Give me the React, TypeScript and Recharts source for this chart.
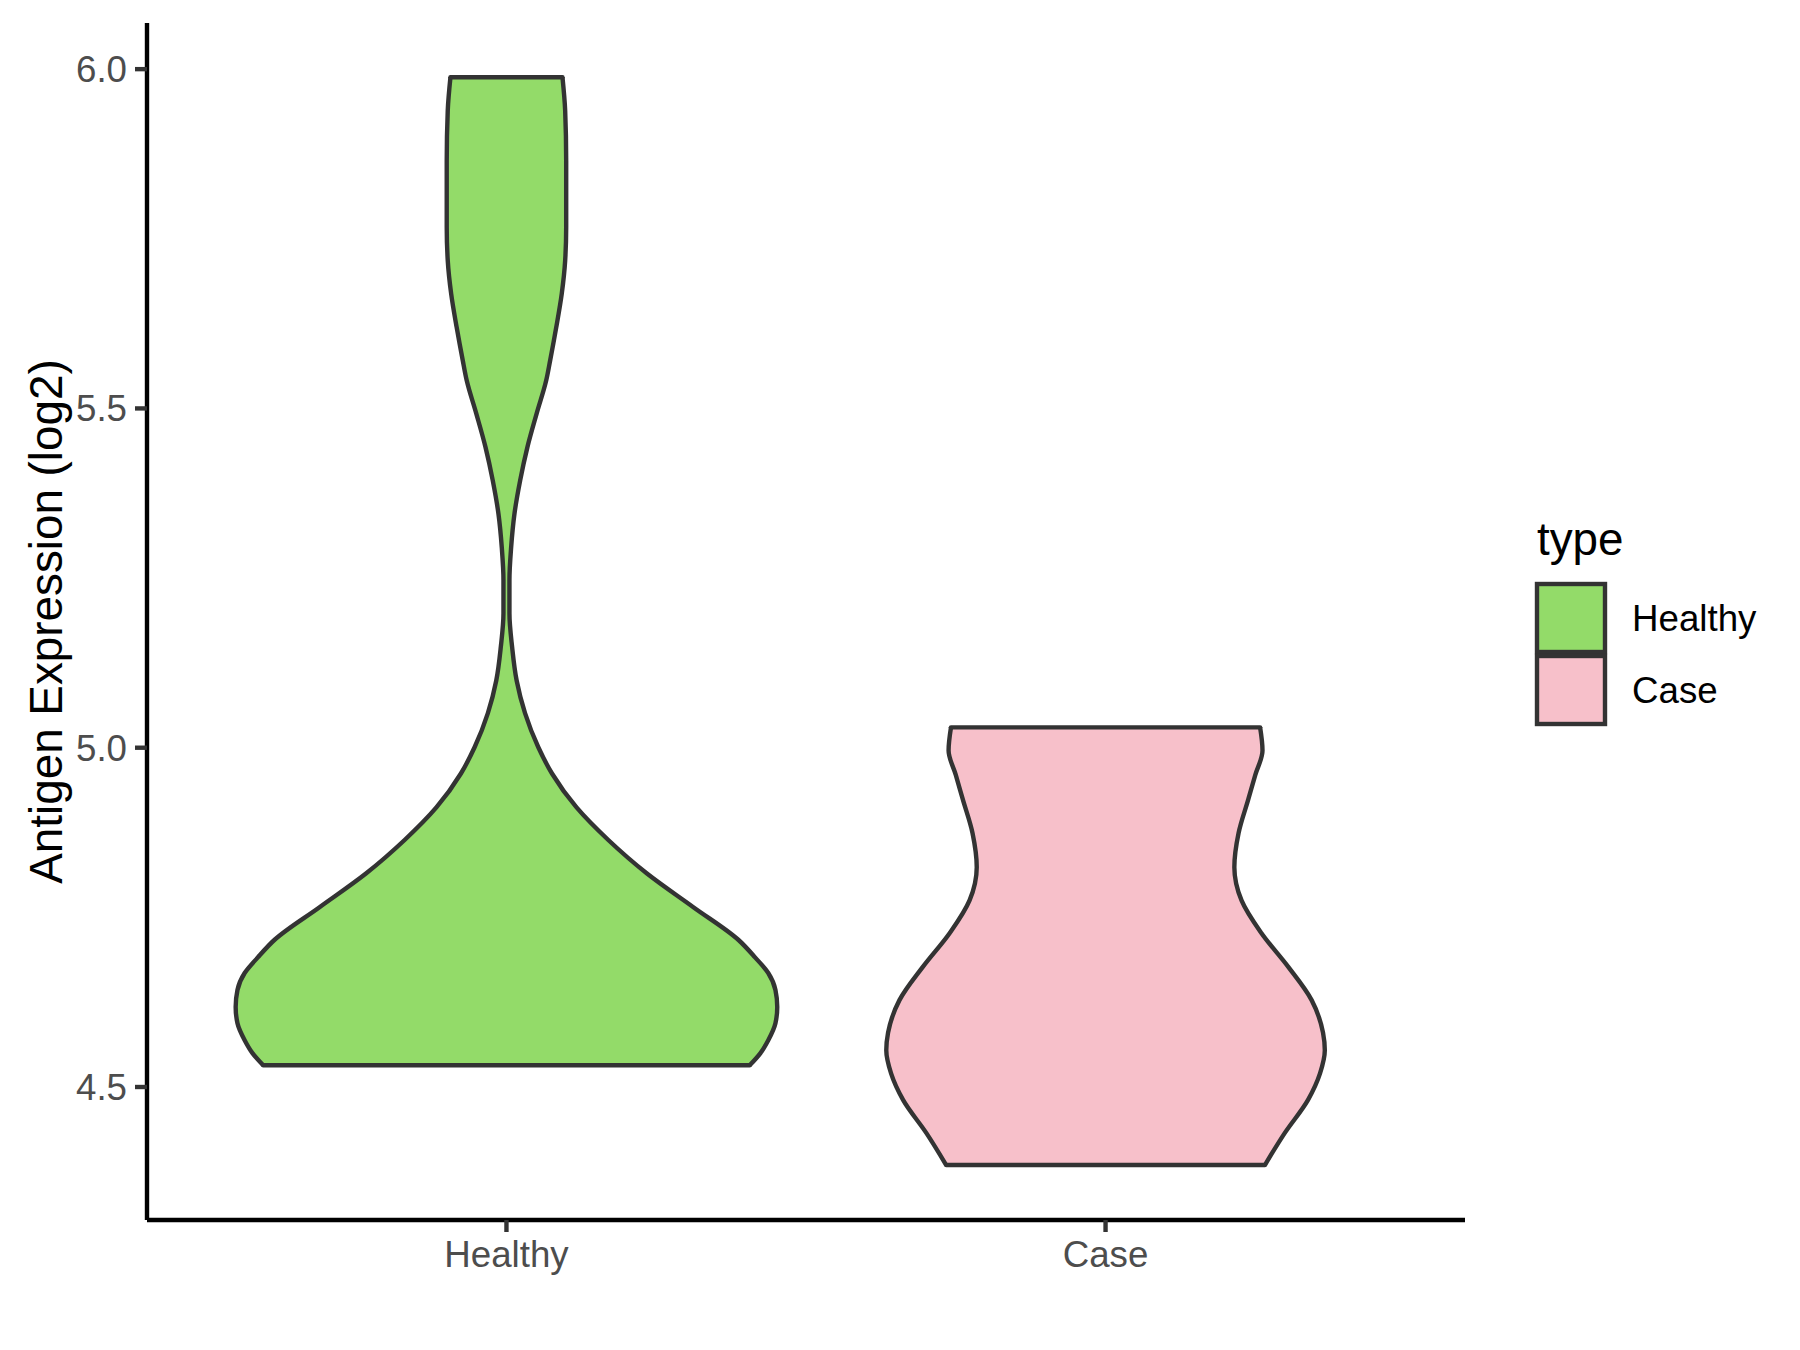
import {
  ComposedChart,
  Area,
  XAxis,
  YAxis,
  ReferenceLine,
  Legend
} from 'recharts'

// categories and their colours
const categories = ['Healthy', 'Case']
const fills = ['#93DB69', '#F7C0CA']
const outline = '#333333'

// violin outlines: expression level (log2) and half width (in category units)
const healthyLevels = [
  4.532, 4.55, 4.569, 4.594, 4.618, 4.643, 4.668, 4.691, 4.717, 4.765, 4.815, 4.864, 4.912, 4.962,
  5.001, 5.051, 5.099, 5.148, 5.198, 5.247, 5.295, 5.345, 5.394, 5.443, 5.493, 5.541, 5.571, 5.619,
  5.669, 5.718, 5.767, 5.865, 5.939, 5.988
]
const healthyHalfWidth = [
  0.406, 0.424, 0.437, 0.449, 0.452, 0.449, 0.437, 0.415, 0.387, 0.312, 0.234, 0.17, 0.117, 0.076,
  0.053, 0.031, 0.017, 0.0095, 0.005, 0.005, 0.0078, 0.0134, 0.0229, 0.035, 0.0506, 0.0663, 0.073,
  0.083, 0.0923, 0.098, 0.0997, 0.0997, 0.098, 0.0935
]

const caseLevels = [
  4.385, 4.432, 4.481, 4.52, 4.554, 4.58, 4.628, 4.677, 4.727, 4.775, 4.824, 4.874, 4.923, 4.96,
  4.996, 5.03
]
const caseHalfWidth = [
  0.266, 0.299, 0.338, 0.358, 0.366, 0.363, 0.344, 0.305, 0.26, 0.227, 0.215, 0.222, 0.238, 0.25,
  0.262, 0.258
]

const yTicks = [4.5, 5.0, 5.5, 6.0]
const xTicks = [1, 2]

const FONT = '"Liberation Sans", Arial, Helvetica, sans-serif'

const violins = [
  { key: 'Healthy', center: 1, levels: healthyLevels, hw: healthyHalfWidth },
  { key: 'Case', center: 2, levels: caseLevels, hw: caseHalfWidth }
].map((v) => ({
  ...v,
  rows: v.levels.map((lv, i) => ({ y: lv, range: [v.center - v.hw[i], v.center + v.hw[i]] }))
}))

function YTitle(props: any) {
  const vb = props.viewBox || { x: 0, y: 0, width: 0, height: 0 }
  const cx = vb.x + 46
  const cy = vb.y + vb.height / 2
  return (
    <text
      x={cx}
      y={cy}
      transform={`rotate(-90, ${cx}, ${cy})`}
      textAnchor="middle"
      dominantBaseline="central"
      fontSize={45.8}
      fontFamily={FONT}
      fill="#000000"
    >
      Antigen Expression (log2)
    </text>
  )
}

function LegendBox() {
  return (
    <svg width={270} height={240} style={{ position: 'absolute', left: 0, top: 0, overflow: 'visible' }}>
      <text x={17} y={55} fontSize={45.8} fontFamily={FONT} fill="#000000">
        type
      </text>
      {categories.map((c, i) => (
        <g key={c}>
          <rect
            x={17}
            y={84 + i * 72}
            width={68}
            height={68}
            fill={fills[i]}
            stroke={outline}
            strokeWidth={4.4}
          />
          <text
            x={112}
            y={118 + i * 72}
            dominantBaseline="central"
            fontSize={36.7}
            fontFamily={FONT}
            fill="#000000"
          >
            {c}
          </text>
        </g>
      ))}
    </svg>
  )
}

export default function App() {
  return (
    <div style={{ position: 'absolute', left: 0, top: 0, width: 1800, height: 1350, background: '#fff', fontFamily: FONT }}>
      <ComposedChart
        layout="vertical"
        width={1800}
        height={1350}
        margin={{ top: 23, right: 335, bottom: 0, left: 0 }}
      >
        <XAxis
          type="number"
          domain={[0.4, 2.6]}
          ticks={xTicks}
          interval={0}
          allowDataOverflow
          height={130}
          tickFormatter={(v: number) => categories[Math.round(v) - 1]}
          axisLine={{ stroke: '#000000', strokeWidth: 4.4 }}
          tickLine={{ stroke: outline, strokeWidth: 4.4 }}
          tickSize={12}
          tickMargin={9}
          tick={{ fill: '#4D4D4D', fontSize: 36.7, fontFamily: FONT }}
        />
        <YAxis
          type="number"
          dataKey="y"
          domain={[4.304, 6.068]}
          ticks={yTicks}
          interval={0}
          allowDataOverflow
          reversed
          width={147}
          tickFormatter={(v: number) => v.toFixed(1)}
          axisLine={{ stroke: '#000000', strokeWidth: 4.4 }}
          tickLine={{ stroke: outline, strokeWidth: 4.4 }}
          tickSize={12}
          tickMargin={8}
          tick={{ fill: '#4D4D4D', fontSize: 36.7, fontFamily: FONT }}
          label={<YTitle />}
        />
        <Legend
          layout="vertical"
          align="right"
          verticalAlign="top"
          content={() => <LegendBox />}
          wrapperStyle={{ left: 1520, top: 500, width: 0, height: 0, overflow: 'visible' }}
        />
        {violins.map((v, i) => (
          <Area
            key={v.key}
            data={v.rows}
            dataKey="range"
            name={v.key}
            type="monotone"
            fill={fills[i]}
            fillOpacity={1}
            stroke={outline}
            strokeWidth={4.4}
            strokeLinejoin="round"
            dot={false}
            activeDot={false}
            isAnimationActive={false}
          />
        ))}
        {violins.map((v) => {
          const n = v.levels.length - 1
          return [
            <ReferenceLine
              key={v.key + '-bottom'}
              segment={[
                { x: v.center - v.hw[0], y: v.levels[0] },
                { x: v.center + v.hw[0], y: v.levels[0] }
              ]}
              stroke={outline}
              strokeWidth={4.4}
              strokeLinecap="round"
            />,
            <ReferenceLine
              key={v.key + '-top'}
              segment={[
                { x: v.center - v.hw[n], y: v.levels[n] },
                { x: v.center + v.hw[n], y: v.levels[n] }
              ]}
              stroke={outline}
              strokeWidth={4.4}
              strokeLinecap="round"
            />
          ]
        })}
      </ComposedChart>
    </div>
  )
}
